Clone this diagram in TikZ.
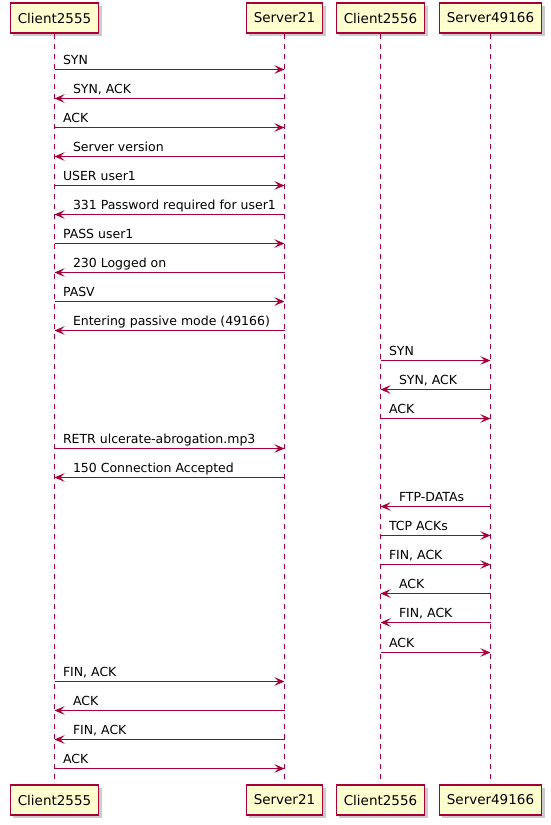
\documentclass[tikz,border=0pt]{standalone}
\usepackage{fontspec}
\setmainfont{DejaVu Sans}
\usetikzlibrary{arrows.meta,shadows}
\definecolor{umlred}{HTML}{A80036}
\definecolor{umlyellow}{HTML}{FEFECE}

\begin{document}
\begin{tikzpicture}[x=1pt, y=-1pt, >={Stealth[length=10pt, width=8.5pt, inset=4pt]},
  actor/.style={draw=umlred, fill=umlyellow, line width=1.2pt, minimum height=30pt,
    inner xsep=7.5pt, font=\fontsize{13.5}{16}\selectfont,
    drop shadow={shadow xshift=3pt, shadow yshift=-3pt, fill=black!40, opacity=0.5}},
  life/.style={draw=umlred, line width=1pt, dash pattern=on 5pt off 5pt},
  msg/.style={->, draw=umlred, line width=1pt},
  lbl/.style={anchor=base west, inner xsep=0pt, yshift=5pt, text=black,
    font=\fontsize{12.5}{15}\selectfont},
  lblr/.style={lbl, pos=0, xshift=8pt},
  lbll/.style={lbl, pos=1, xshift=18pt}]

\useasboundingbox (0,0) rectangle (550,825);

% participants, top and bottom
\node[actor] (c2555) at (54.5,18) {Client2555};
\node[actor] (s21) at (284.5,18) {Server21};
\node[actor] (c2556) at (380.5,18) {Client2556};
\node[actor] (s49166) at (490.5,18) {Server49166};

\node[actor] (c2555b) at (54.5,800) {Client2555};
\node[actor] (s21b) at (284.5,800) {Server21};
\node[actor] (c2556b) at (380.5,800) {Client2556};
\node[actor] (s49166b) at (490.5,800) {Server49166};

% lifelines
\foreach \p in {c2555,s21,c2556,s49166}
  \draw[life] (\p) -- (\p b);

% messages: y / from / to / label side / text
\foreach \y/\from/\to/\d/\txt in {
    69.5/c2555/s21/r/SYN,
    98.5/s21/c2555/l/{SYN, ACK},
    127.5/c2555/s21/r/ACK,
    156.5/s21/c2555/l/Server version,
    185.5/c2555/s21/r/USER user1,
    214.5/s21/c2555/l/331 Password required for user1,
    243.5/c2555/s21/r/PASS user1,
    272.5/s21/c2555/l/230 Logged on,
    301.5/c2555/s21/r/PASV,
    330.5/s21/c2555/l/Entering passive mode (49166),
    360.5/c2556/s49166/r/SYN,
    389.5/s49166/c2556/l/{SYN, ACK},
    418.5/c2556/s49166/r/ACK,
    448.5/c2555/s21/r/RETR ulcerate-abrogation.mp3,
    477.5/s21/c2555/l/150 Connection Accepted,
    506.5/s49166/c2556/l/FTP-DATAs,
    535.5/c2556/s49166/r/TCP ACKs,
    564.5/c2556/s49166/r/{FIN, ACK},
    593.5/s49166/c2556/l/ACK,
    622.5/s49166/c2556/l/{FIN, ACK},
    652.5/c2556/s49166/r/ACK,
    681.5/c2555/s21/r/{FIN, ACK},
    710.5/s21/c2555/l/ACK,
    739.5/s21/c2555/l/{FIN, ACK},
    768.5/c2555/s21/r/ACK}
  \draw[msg] (\from |- 0,\y) -- (\to |- 0,\y) node[lbl\d] (t\y) {\txt};

\end{tikzpicture}
\end{document}
